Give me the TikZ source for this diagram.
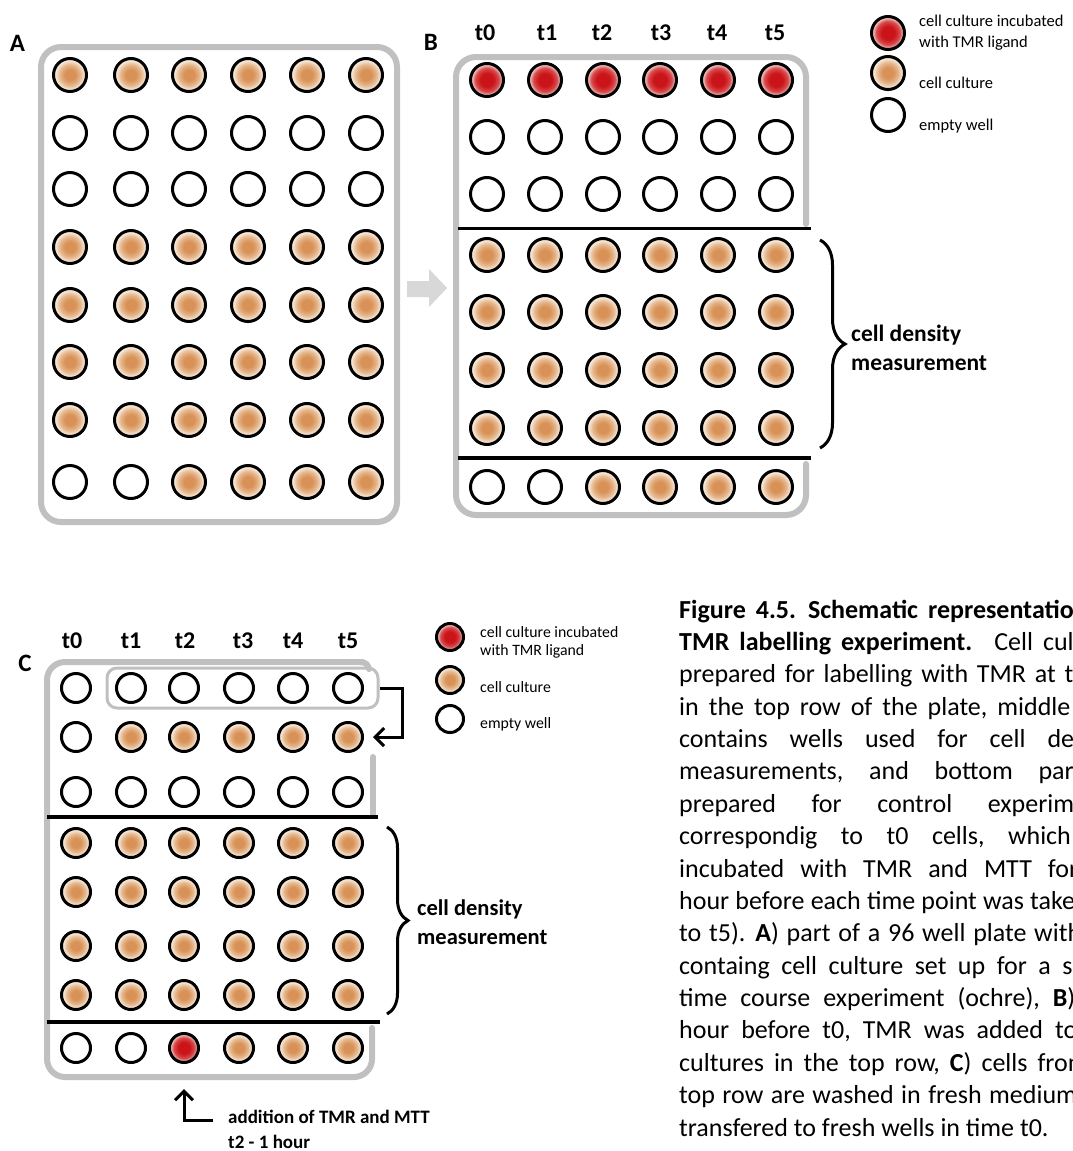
\documentclass[tikz,border=0pt]{standalone}
\usepackage{fontspec}
\setmainfont{Carlito}
\usetikzlibrary{arrows.meta,decorations.pathreplacing}
\definecolor{ochreD}{RGB}{216,146,88}
\definecolor{ochreM}{RGB}{230,184,142}
\definecolor{ochreL}{RGB}{246,232,218}
\definecolor{redD}{RGB}{202,20,26}
\definecolor{redM}{RGB}{216,76,76}
\definecolor{redL}{RGB}{240,196,196}
\definecolor{frameG}{RGB}{192,192,192}
\definecolor{arrowG}{RGB}{216,216,216}
\pgfdeclareradialshading{culture}{\pgfpoint{0bp}{0bp}}{color(0bp)=(ochreD); color(8bp)=(ochreD); color(16bp)=(ochreM); color(22bp)=(ochreL); color(25bp)=(ochreL); color(50bp)=(ochreL)}
\pgfdeclareradialshading{tmrshade}{\pgfpoint{0bp}{0bp}}{color(0bp)=(redD); color(10bp)=(redD); color(18bp)=(redM); color(23bp)=(redL); color(25bp)=(redL); color(50bp)=(redL)}
\tikzset{
  well/.style={circle, draw=black, line width=3pt, inner sep=0pt, minimum size=33pt},
  cw/.style={well, shading=culture},
  rw/.style={well, shading=tmrshade},
  ew/.style={well, fill=white},
  plateframe/.style={draw=frameG, line width=6pt, line cap=round, line join=round},
  sepline/.style={draw=black, line width=3.5pt},
  conn/.style={draw=black, line width=3pt, -{Straight Barb[length=9pt,width=18pt]}},
  brc/.style={draw=black, line width=3pt, decorate},
  panel/.style={font=\fontsize{25}{25}\selectfont\bfseries, inner sep=0pt},
  tlab/.style={font=\fontsize{24}{24}\selectfont\bfseries, inner sep=0pt, anchor=base},
  leg/.style={font=\fontsize{16.5}{16.5}\selectfont, inner sep=0pt, anchor=base west},
  legs/.style={font=\fontsize{15.8}{15.8}\selectfont, inner sep=0pt, anchor=base west},
  dens/.style={font=\fontsize{23.5}{23.5}\selectfont\bfseries, inner sep=0pt, anchor=base west},
  note/.style={font=\fontsize{19}{19}\selectfont\bfseries, inner sep=0pt, anchor=base west},
  captxt/.style={font=\fontsize{26}{26}\selectfont, inner sep=0pt, anchor=base west},
  inbox/.style={draw=frameG, line width=3pt, rounded corners=10pt, minimum width=271pt, minimum height=40pt, inner sep=0pt},
}
\begin{document}
\begin{tikzpicture}[x=1pt,y=-1pt]
\useasboundingbox (0,0) rectangle (1073,1151);
\fill[white] (0,0) rectangle (1073,1151);

% ---------------- Panel A ----------------
\node[panel] (labA) at (17.5,43) {A};
\draw[plateframe, rounded corners=20pt] (41,47) rectangle (397,522);
\foreach \y/\ta/\tb/\tc/\td/\te/\tf [count=\rr] in {
  75/cw/cw/cw/cw/cw/cw,
  133/ew/ew/ew/ew/ew/ew,
  189/ew/ew/ew/ew/ew/ew,
  247/cw/cw/cw/cw/cw/cw,
  305/cw/cw/cw/cw/cw/cw,
  362/cw/cw/cw/cw/cw/cw,
  420/cw/cw/cw/cw/cw/cw,
  482/ew/ew/cw/cw/cw/cw}{
  \node[\ta] (a-\rr-1) at (70,\y) {};
  \node[\tb] (a-\rr-2) at (131,\y) {};
  \node[\tc] (a-\rr-3) at (189,\y) {};
  \node[\td] (a-\rr-4) at (248,\y) {};
  \node[\te] (a-\rr-5) at (307,\y) {};
  \node[\tf] (a-\rr-6) at (366,\y) {};
}

% gray arrow A -> B
\fill[arrowG] (407,281) -- (429,281) -- (429,269) -- (447,288) -- (429,307) -- (429,297) -- (407,297) -- cycle;

% ---------------- Panel B ----------------
\node[panel] (labB) at (431,42.5) {B};
\foreach \x/\t [count=\i] in {485/t0,547/t1,602/t2,661/t3,717/t4,775/t5}
  \node[tlab] (tb\i) at (\x,40) {\t};
\draw[plateframe, rounded corners=20pt] (806,224) -- (806,57) -- (456,57) -- (456,515) -- (806,515) -- (806,464);
\foreach \y/\ta/\tb/\tc/\td/\te/\tf [count=\rr] in {
  80/rw/rw/rw/rw/rw/rw,
  137/ew/ew/ew/ew/ew/ew,
  194/ew/ew/ew/ew/ew/ew,
  255/cw/cw/cw/cw/cw/cw,
  312/cw/cw/cw/cw/cw/cw,
  370/cw/cw/cw/cw/cw/cw,
  428/cw/cw/cw/cw/cw/cw,
  487/ew/ew/cw/cw/cw/cw}{
  \node[\ta] (b-\rr-1) at (487,\y) {};
  \node[\tb] (b-\rr-2) at (545,\y) {};
  \node[\tc] (b-\rr-3) at (603,\y) {};
  \node[\td] (b-\rr-4) at (660,\y) {};
  \node[\te] (b-\rr-5) at (718,\y) {};
  \node[\tf] (b-\rr-6) at (776,\y) {};
}
\draw[sepline] (458,228.5) -- (811,228.5);
\draw[sepline] (458,458) -- (811,458);
\draw[brc, decoration={brace, amplitude=25pt}] (820,240) -- (820,448);
\node[dens] (densB1) at (851,341) {cell density};
\node[dens] (densB2) at (851,370) {measurement};

% top legend
\node[rw] (lgr) at (888,33) {};
\node[cw] (lgc) at (888,73) {};
\node[ew] (lge) at (888,115) {};
\node[leg] (lgt1) at (919,27) {cell culture incubated};
\node[leg] (lgt2) at (919,47) {with TMR ligand};
\node[leg] (lgt3) at (919,88) {cell culture};
\node[leg] (lgt4) at (919,130) {empty well};

% ---------------- Panel C ----------------
\node[panel] (labC) at (25,663) {C};
\foreach \x/\t [count=\i] in {72/t0,131/t1,185/t2,243/t3,293/t4,348/t5}
  \node[tlab] (tc\i) at (\x,648) {\t};
\draw[plateframe, rounded corners=18pt] (372,1028) -- (372,1077) -- (47,1077) -- (47,662) -- (362,662);
\draw[plateframe] (360,662) .. controls (366,662) and (368,665) .. (369,669);
\draw[plateframe] (373,757) -- (373,814);
\node[inbox] (grp) at (242.5,688) {};
\begin{scope}[well/.append style={minimum size=29pt}]
\foreach \y/\ta/\tb/\tc/\td/\te/\tf [count=\rr] in {
  688/ew/ew/ew/ew/ew/ew,
  737/ew/cw/cw/cw/cw/cw,
  792/ew/ew/ew/ew/ew/ew,
  843/cw/cw/cw/cw/cw/cw,
  892/cw/cw/cw/cw/cw/cw,
  946/cw/cw/cw/cw/cw/cw,
  995/cw/cw/cw/cw/cw/cw,
  1048/ew/ew/rw/cw/cw/cw}{
  \node[\ta] (c-\rr-1) at (76,\y) {};
  \node[\tb] (c-\rr-2) at (131,\y) {};
  \node[\tc] (c-\rr-3) at (184,\y) {};
  \node[\td] (c-\rr-4) at (239,\y) {};
  \node[\te] (c-\rr-5) at (293,\y) {};
  \node[\tf] (c-\rr-6) at (348,\y) {};
}
\node[rw, minimum size=27pt] (lcr) at (450,637) {};
\node[cw, minimum size=27pt] (lcc) at (450,680) {};
\node[ew, minimum size=27pt] (lce) at (450,719) {};
\end{scope}
\node[legs] (lct1) at (480,637) {cell culture incubated};
\node[legs] (lct2) at (480,655) {with TMR ligand};
\node[legs] (lct3) at (480,692) {cell culture};
\node[legs] (lct4) at (480,728) {empty well};

\draw[sepline] (47,817) -- (378,817);
\draw[sepline] (47,1022) -- (380,1022);
\draw[conn, shorten >=9pt] (grp.east) -- ++(23,0) |- (c-2-6.east);
\draw[brc, decoration={brace, amplitude=21pt}] (387,827) -- (387,1014);
\node[dens, font=\fontsize{22.5}{22.5}\selectfont\bfseries] (densC1) at (417,915) {cell density};
\node[dens, font=\fontsize{22.5}{22.5}\selectfont\bfseries] (densC2) at (417,944) {measurement};

\node[note] (add1) at (228,1123) {addition of TMR and MTT};
\node[note] (add2) at (228,1148) {t2 - 1 hour};
\coordinate (k1) at (213,1120);
\draw[conn, shorten >=25pt] (k1) -| (c-8-3.south);

% ---------------- Caption ----------------
\begin{scope}
\clip (0,0) rectangle (1073,1151);
\node[captxt] (cap1) at (679,618) {\spaceskip=10pt\relax\textbf{Figure 4.5. Schematic representation}};
\node[captxt] (cap2) at (679,650.4) {\spaceskip=10pt\relax\textbf{TMR labelling experiment.}\hspace*{22pt}Cell cultures};
\node[captxt] (cap3) at (679,682.8) {\spaceskip=8.8pt\relax prepared for labelling with TMR at t0};
\node[captxt] (cap4) at (679,715.1) {\spaceskip=10pt\relax in the top row of the plate, middle part};
\node[captxt] (cap5) at (679,747.5) {\spaceskip=22pt\relax contains wells used for cell density};
\node[captxt] (cap6) at (679,779.9) {\spaceskip=25.8pt\relax measurements, and bottom part};
\node[captxt] (cap7) at (679,812.3) {\spaceskip=35.6pt\relax prepared for control experiments};
\node[captxt] (cap8) at (679,844.6) {\spaceskip=23.5pt\relax correspondig to t0 cells, which};
\node[captxt] (cap9) at (679,877) {\spaceskip=16pt\relax incubated with TMR and MTT for};
\node[captxt] (cap10) at (679,909.4) {\spaceskip=6.2pt\relax hour before each time point was taken};
\node[captxt] (cap11) at (679,941.8) {\spaceskip=7.8pt\relax to t5). \textbf{A}) part of a 96 well plate with};
\node[captxt] (cap12) at (679,974.1) {\spaceskip=11.5pt\relax containg cell culture set up for a six};
\node[captxt] (cap13) at (679,1006.5) {\spaceskip=13pt\relax time course experiment (ochre), \textbf{B})};
\node[captxt] (cap14) at (679,1038.9) {\spaceskip=12pt\relax hour before t0, TMR was added to};
\node[captxt] (cap15) at (679,1071.3) {\spaceskip=10pt\relax cultures in the top row, \textbf{C}) cells from};
\node[captxt] (cap16) at (679,1103.6) {\spaceskip=7.5pt\relax top row are washed in fresh medium};
\node[captxt] (cap17) at (679,1136) {transfered to fresh wells in time t0.};
\end{scope}
\end{tikzpicture}
\end{document}
